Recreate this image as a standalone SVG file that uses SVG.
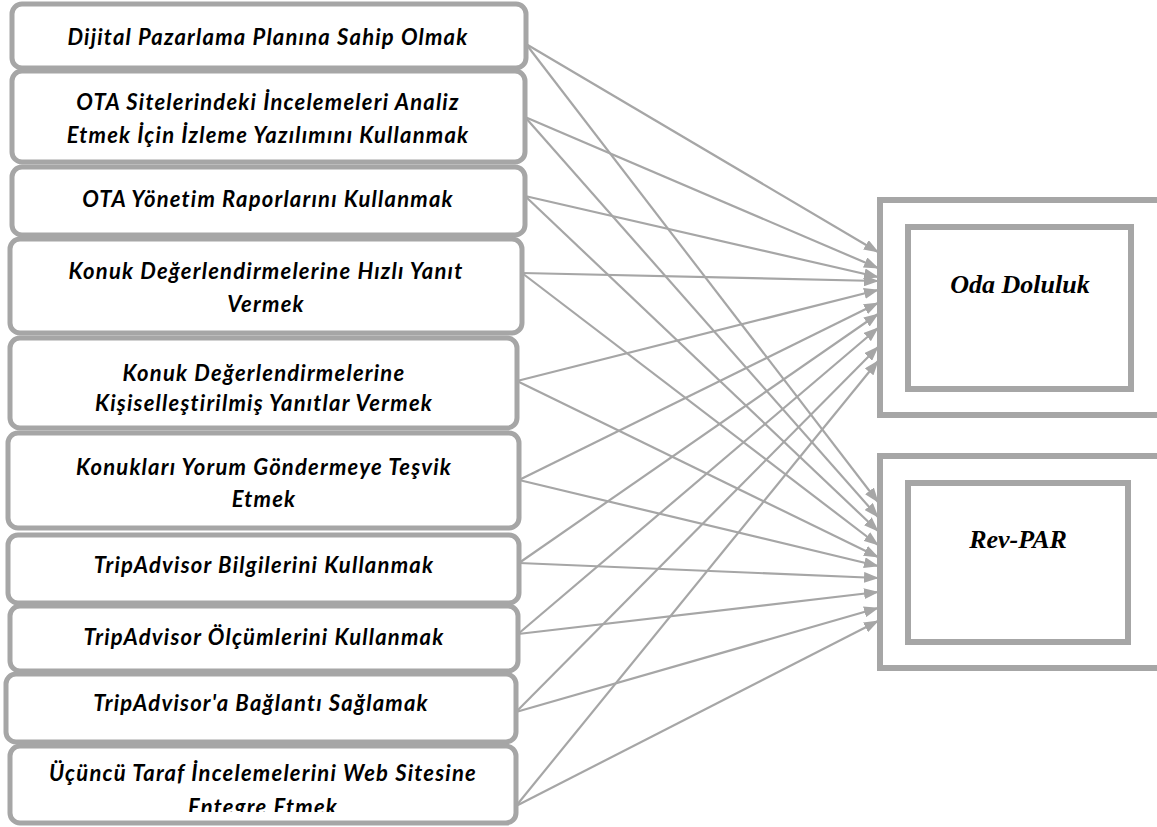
<svg xmlns="http://www.w3.org/2000/svg" width="1157" height="827" viewBox="0 0 1157 827">
<defs>
<style>
.box{fill:#fff;stroke:#a6a6a6;stroke-width:5}
.tgt{fill:#fff;stroke:#a6a6a6;stroke-width:6}
.lt{font-family:Lato,"Liberation Sans",sans-serif;font-weight:bold;font-style:italic;font-size:22px;letter-spacing:1.2px;fill:#000;text-anchor:middle}
.rt{font-family:"Liberation Serif","Times New Roman",serif;font-weight:bold;font-style:italic;font-size:26px;fill:#000;text-anchor:middle}
.con line{stroke:#a6a6a6;stroke-width:2.2;marker-end:url(#ah)}
</style>
<marker id="ah" markerUnits="userSpaceOnUse" markerWidth="15" markerHeight="11" refX="14" refY="5.5" orient="auto">
<path d="M0,0 L15,5.5 L0,11 Z" fill="#a6a6a6"/>
</marker>
<clipPath id="clip10"><rect x="10" y="748" width="510" height="64"/></clipPath>
</defs>
<g id="connectors" class="con">
<line x1="526" y1="44" x2="878" y2="252"/>
<line x1="526" y1="44" x2="878" y2="502"/>
<line x1="525" y1="117" x2="878" y2="268"/>
<line x1="525" y1="117" x2="878" y2="517"/>
<line x1="525" y1="196" x2="878" y2="277"/>
<line x1="525" y1="196" x2="878" y2="531"/>
<line x1="522" y1="273" x2="878" y2="281"/>
<line x1="522" y1="273" x2="878" y2="545"/>
<line x1="517" y1="381" x2="878" y2="290"/>
<line x1="517" y1="381" x2="878" y2="557"/>
<line x1="519" y1="480" x2="878" y2="303"/>
<line x1="519" y1="480" x2="878" y2="566"/>
<line x1="519" y1="563" x2="878" y2="314"/>
<line x1="519" y1="563" x2="878" y2="578"/>
<line x1="518" y1="634" x2="878" y2="328"/>
<line x1="518" y1="634" x2="878" y2="592"/>
<line x1="516" y1="712" x2="878" y2="347"/>
<line x1="516" y1="712" x2="878" y2="608"/>
<line x1="516" y1="806" x2="878" y2="361"/>
<line x1="516" y1="806" x2="878" y2="621"/>
</g>
<g id="n1"><rect class="box" x="12" y="4" width="514" height="64" rx="10"/><text class="lt" x="268" y="45">Dijital Pazarlama Planına Sahip Olmak</text></g>
<g id="n2"><rect class="box" x="12" y="71" width="513" height="91" rx="10"/><text class="lt" x="268" y="110">OTA Sitelerindeki İncelemeleri Analiz</text><text class="lt" x="268" y="143">Etmek İçin İzleme Yazılımını Kullanmak</text></g>
<g id="n3"><rect class="box" x="12" y="167" width="513" height="68" rx="10"/><text class="lt" x="268" y="207">OTA Yönetim Raporlarını Kullanmak</text></g>
<g id="n4"><rect class="box" x="10" y="239" width="512" height="94" rx="10"/><text class="lt" x="266" y="279">Konuk Değerlendirmelerine Hızlı Yanıt</text><text class="lt" x="266" y="312">Vermek</text></g>
<g id="n5"><rect class="box" x="10" y="338" width="507" height="90" rx="10"/><text class="lt" x="264" y="381">Konuk Değerlendirmelerine</text><text class="lt" x="264" y="411">Kişiselleştirilmiş Yanıtlar Vermek</text></g>
<g id="n6"><rect class="box" x="8" y="433" width="511" height="95" rx="10"/><text class="lt" x="264" y="475">Konukları Yorum Göndermeye Teşvik</text><text class="lt" x="264" y="507">Etmek</text></g>
<g id="n7"><rect class="box" x="8" y="535" width="511" height="68" rx="10"/><text class="lt" x="264" y="573">TripAdvisor Bilgilerini Kullanmak</text></g>
<g id="n8"><rect class="box" x="10" y="606" width="508" height="65" rx="10"/><text class="lt" x="264" y="645">TripAdvisor Ölçümlerini Kullanmak</text></g>
<g id="n9"><rect class="box" x="6" y="674" width="510" height="68" rx="10"/><text class="lt" x="261" y="711">TripAdvisor'a Bağlantı Sağlamak</text></g>
<g id="n10"><rect class="box" x="10" y="746" width="506" height="77" rx="10"/><text class="lt" x="263" y="781">Üçüncü Taraf İncelemelerini Web Sitesine</text><text class="lt" x="263" y="815" clip-path="url(#clip10)">Entegre Etmek</text></g>
<g id="oda"><rect class="tgt" x="880" y="200" width="282" height="215"/><rect class="tgt" x="908" y="227" width="223" height="162"/><text class="rt" x="1020" y="293">Oda Doluluk</text></g>
<g id="revpar"><rect class="tgt" x="880" y="456" width="282" height="212"/><rect class="tgt" x="908" y="483" width="220" height="159"/><text class="rt" x="1018" y="548">Rev-PAR</text></g>
</svg>
